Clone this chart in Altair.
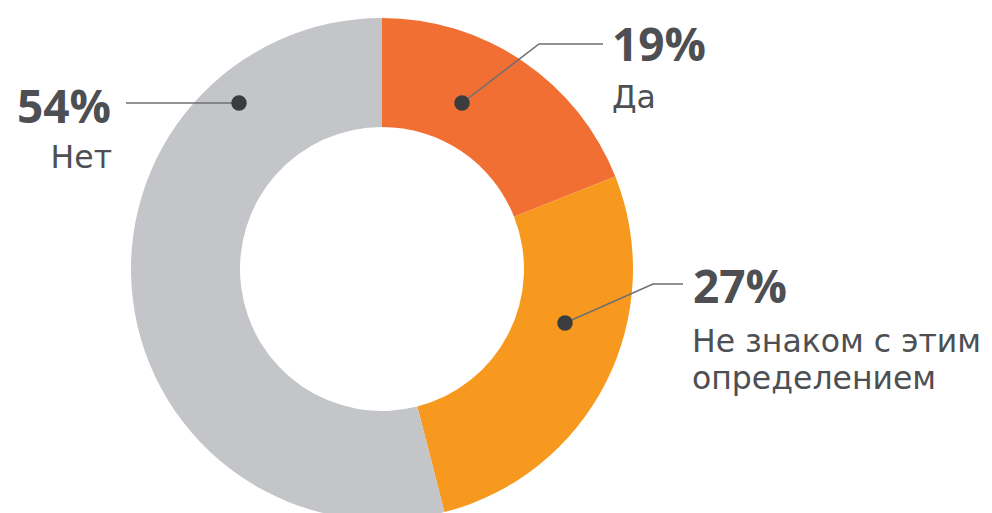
import altair as alt
import pandas as pd

# --- data ---
categories = ["Да", "Не знаком с этим определением", "Нет"]
values = [19, 27, 54]
slice_colors = ["#F26F33", "#F7991F", "#C4C5C8"]

pct_labels = ["19%", "27%", "54%"]
text_labels = ["Да", "Не знаком с этим", "определением", "Нет"]

# --- layout (page pixel coordinates of callouts) ---
W, H = 976, 505
CX, CY = 382, 269
R_OUT, R_IN = 251, 142

dot_x = [462, 565, 239]
dot_y = [103, 323, 103]
leader_pts = [
    [(462, 103), (539, 44), (603, 44)],
    [(565, 323), (653, 284), (683, 284)],
    [(239, 103), (126, 103)],
]
pct_pos = [(612, 61, "left"), (693, 303, "left"), (111, 123, "right")]
lab_pos = [(612, 108, "left"), (692, 352, "left"), (692, 389, "left"), (112, 168, "right")]

TEXT = "#4D4F53"

slices = pd.DataFrame({"cat": categories, "val": values, "ord": range(len(values))})

xs = alt.Scale(domain=[8, 8 + W], nice=False, zero=False)
ys = alt.Scale(domain=[8, 8 + H], nice=False, zero=False, reverse=True)

arc = alt.Chart(slices).mark_arc(radius=R_OUT, radius2=R_IN, stroke=None).encode(
    theta=alt.Theta("val:Q", stack=True),
    order=alt.Order("ord:Q"),
    color=alt.Color("cat:N", scale=alt.Scale(domain=categories, range=slice_colors), legend=None),
    x=alt.value(CX - 8),
    y=alt.value(CY - 8),
)

line_rows = []
for i, pts in enumerate(leader_pts):
    for j, (px, py) in enumerate(pts):
        line_rows.append({"g": i, "k": j, "px": px, "py": py})
lines = alt.Chart(pd.DataFrame(line_rows)).mark_line(color="#6E6F72", strokeWidth=1.5).encode(
    x=alt.X("px:Q", scale=xs, axis=None),
    y=alt.Y("py:Q", scale=ys, axis=None),
    detail="g:N",
    order="k:Q",
)

dots = alt.Chart(pd.DataFrame({"px": dot_x, "py": dot_y})).mark_circle(
    size=240, color="#3B3C3E", opacity=1
).encode(
    x=alt.X("px:Q", scale=xs, axis=None),
    y=alt.Y("py:Q", scale=ys, axis=None),
)

def text_layer(labels, pos, size, weight, font):
    layers = []
    for lab, (px, py, al) in zip(labels, pos):
        df = pd.DataFrame({"t": [lab], "px": [px], "py": [py]})
        layers.append(
            alt.Chart(df).mark_text(
                align=al, baseline="alphabetic", font=font, fontSize=size,
                fontWeight=weight, color=TEXT,
            ).encode(
                x=alt.X("px:Q", scale=xs, axis=None),
                y=alt.Y("py:Q", scale=ys, axis=None),
                text="t:N",
            )
        )
    return layers

chart = alt.layer(
    arc, lines, dots,
    *text_layer(pct_labels, pct_pos, 46, "bold", "Open Sans"),
    *text_layer(text_labels, lab_pos, 31.5, "normal", "DejaVu Sans"),
).properties(
    width=W, height=H, autosize=alt.AutoSizeParams(type="none"), padding=0
).configure_view(stroke=None)

chart.save("out.html", embed_options={"renderer": "svg", "actions": False})
